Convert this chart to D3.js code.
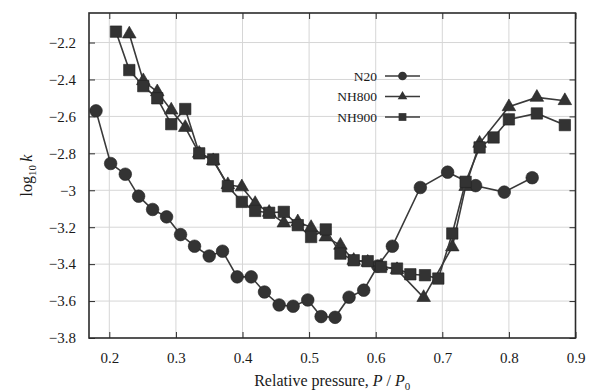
<!DOCTYPE html>
<html>
<head>
<meta charset="utf-8">
<script src="https://cdn.jsdelivr.net/npm/d3@7"></script>
<style>
  body { margin: 0; background: #fff; }
  svg, svg text { font-family: "Liberation Serif", "DejaVu Serif", serif; }
  .grid line { stroke: #d6d6d6; stroke-width: 1; }
</style>
</head>
<body>
<div id="chart"></div>
<script>
// relative pressure readings
const n20X = [0.180, 0.202, 0.224, 0.244, 0.265, 0.286, 0.307, 0.328, 0.350, 0.370, 0.392, 0.413, 0.433, 0.455, 0.476, 0.498, 0.518, 0.539, 0.560, 0.582, 0.603, 0.625, 0.667, 0.708, 0.750, 0.793, 0.835];
const n20Y = [-2.570, -2.855, -2.913, -3.032, -3.104, -3.144, -3.240, -3.303, -3.356, -3.330, -3.469, -3.469, -3.551, -3.621, -3.628, -3.594, -3.684, -3.688, -3.579, -3.541, -3.410, -3.303, -2.985, -2.902, -2.975, -3.010, -2.932];

const nh800X = [0.230, 0.251, 0.272, 0.293, 0.314, 0.335, 0.356, 0.378, 0.399, 0.419, 0.440, 0.462, 0.483, 0.503, 0.525, 0.547, 0.567, 0.588, 0.608, 0.632, 0.672, 0.715, 0.735, 0.756, 0.800, 0.842, 0.884];
const nh800Y = [-2.154, -2.407, -2.467, -2.566, -2.660, -2.800, -2.840, -2.970, -2.982, -3.072, -3.120, -3.177, -3.171, -3.202, -3.253, -3.298, -3.380, -3.390, -3.410, -3.430, -3.581, -3.307, -2.980, -2.746, -2.548, -2.497, -2.515];

const nh900X = [0.210, 0.230, 0.251, 0.272, 0.293, 0.314, 0.335, 0.356, 0.378, 0.399, 0.419, 0.440, 0.462, 0.483, 0.503, 0.525, 0.547, 0.567, 0.588, 0.608, 0.632, 0.652, 0.674, 0.694, 0.715, 0.735, 0.756, 0.777, 0.800, 0.842, 0.884];
const nh900Y = [-2.141, -2.349, -2.436, -2.502, -2.642, -2.560, -2.800, -2.833, -2.978, -3.063, -3.112, -3.122, -3.117, -3.189, -3.253, -3.212, -3.343, -3.379, -3.384, -3.415, -3.424, -3.455, -3.460, -3.478, -3.234, -2.954, -2.768, -2.714, -2.616, -2.584, -2.647];

const seriesNames = ['N20', 'NH800', 'NH900'];
const seriesShapes = ['circle', 'triangle', 'square'];
const xTicks = [0.2, 0.3, 0.4, 0.5, 0.6, 0.7, 0.8, 0.9];
const yTicks = [-3.8, -3.6, -3.4, -3.2, -3, -2.8, -2.6, -2.4, -2.2];

const W = 589, H = 392;
const margin = { top: 13, right: 13.5, bottom: 54, left: 89 };
const width = W - margin.left - margin.right;
const height = H - margin.top - margin.bottom;
const serif = '"Liberation Serif", "DejaVu Serif", serif';

const svg = d3.select('#chart').append('svg')
  .attr('width', W)
  .attr('height', H);

const chart = svg.append('g')
  .attr('transform', `translate(${margin.left}, ${margin.top})`);

const xScale = d3.scaleLinear().domain([0.1695, 0.9]).range([0, width]);
const yScale = d3.scaleLinear().domain([-3.8, -2.04]).range([height, 0]);

const ink = '#2b2b2b';
const fmt = v => d3.format('')(v).replace('-', '\u2212');

// grid
chart.append('g').attr('class', 'grid')
  .selectAll('line').data(xTicks.filter(t => t < 0.9)).join('line')
  .attr('x1', d => xScale(d)).attr('x2', d => xScale(d))
  .attr('y1', 0).attr('y2', height);
chart.append('g').attr('class', 'grid')
  .selectAll('line').data(yTicks.filter(t => t > -3.8)).join('line')
  .attr('x1', 0).attr('x2', width)
  .attr('y1', d => yScale(d)).attr('y2', d => yScale(d));

// axes, ticks pointing inwards on all four sides
const styleAxis = g => {
  g.attr('font-family', serif).attr('font-size', 15);
  g.select('.domain').remove();
  g.selectAll('.tick line').attr('stroke', ink).attr('stroke-width', 1);
  g.selectAll('.tick text').attr('fill', '#1a1a1a').style('font-family', serif).attr('font-size', 15);
};
chart.append('g')
  .attr('transform', `translate(0, ${height})`)
  .call(d3.axisBottom(xScale).tickValues(xTicks).tickSize(-6).tickPadding(14).tickFormat(fmt))
  .call(styleAxis);
chart.append('g')
  .call(d3.axisTop(xScale).tickValues(xTicks).tickSize(-6).tickFormat(''))
  .call(styleAxis);
chart.append('g')
  .call(d3.axisLeft(yScale).tickValues(yTicks).tickSize(-6).tickPadding(13).tickFormat(fmt))
  .call(styleAxis);
chart.append('g')
  .attr('transform', `translate(${width}, 0)`)
  .call(d3.axisRight(yScale).tickValues(yTicks).tickSize(-6).tickFormat(''))
  .call(styleAxis);

chart.append('rect')
  .attr('width', width).attr('height', height)
  .attr('fill', 'none').attr('stroke', ink).attr('stroke-width', 1.6);

// series
const symbolFor = (shape, size) => {
  const type = shape === 'circle' ? d3.symbolCircle : shape === 'triangle' ? d3.symbolTriangle : d3.symbolSquare;
  return d3.symbol().type(type).size(size)();
};
const markSize = { circle: 125, triangle: 80, square: 130 };

const series = [
  { name: seriesNames[0], shape: seriesShapes[0], pts: n20X.map((x, i) => [x, n20Y[i]]) },
  { name: seriesNames[1], shape: seriesShapes[1], pts: nh800X.map((x, i) => [x, nh800Y[i]]) },
  { name: seriesNames[2], shape: seriesShapes[2], pts: nh900X.map((x, i) => [x, nh900Y[i]]) }
];

const line = d3.line().x(d => xScale(d[0])).y(d => yScale(d[1]));

series.forEach(s => {
  chart.append('path')
    .datum(s.pts)
    .attr('d', line)
    .attr('fill', 'none')
    .attr('stroke', '#3a3a3a')
    .attr('stroke-width', 1.6);
  chart.append('g').selectAll('path').data(s.pts).join('path')
    .attr('transform', d => `translate(${xScale(d[0])}, ${yScale(d[1])})`)
    .attr('d', symbolFor(s.shape, markSize[s.shape]))
    .attr('fill', '#333')
    .attr('stroke', '#222')
    .attr('stroke-width', 0.6);
});

// legend
const legend = svg.append('g').attr('transform', 'translate(377, 76)');
series.forEach((s, i) => {
  const g = legend.append('g').attr('transform', `translate(0, ${i * 20.5})`);
  g.append('text')
    .attr('text-anchor', 'end').attr('dy', '0.35em')
    .attr('font-size', 13.5).attr('fill', '#1a1a1a')
    .text(s.name);
  g.append('line')
    .attr('x1', 8).attr('x2', 43)
    .attr('stroke', '#3a3a3a').attr('stroke-width', 1.4);
  g.append('path')
    .attr('transform', 'translate(25.5, 0)')
    .attr('d', symbolFor(s.shape, s.shape === 'triangle' ? 40 : 60))
    .attr('fill', '#333');
});

// axis titles
svg.append('text')
  .attr('x', margin.left + width / 2)
  .attr('y', 386)
  .attr('text-anchor', 'middle')
  .attr('font-size', 16)
  .attr('fill', '#1a1a1a')
  .call(t => {
    t.append('tspan').text('Relative pressure, ');
    t.append('tspan').attr('font-style', 'italic').text('P');
    t.append('tspan').text(' / ');
    t.append('tspan').attr('font-style', 'italic').text('P');
    t.append('tspan').attr('font-size', 11).attr('dy', 4).text('0');
  });

svg.append('text')
  .attr('transform', `translate(32, ${margin.top + height / 2}) rotate(-90)`)
  .attr('text-anchor', 'middle')
  .attr('font-size', 16)
  .attr('fill', '#1a1a1a')
  .call(t => {
    t.append('tspan').text('log');
    t.append('tspan').attr('font-size', 11).attr('dy', 4).text('10');
    t.append('tspan').attr('dy', -4).text('\u2009');
    t.append('tspan').attr('font-style', 'italic').text('k');
  });
</script>
</body>
</html>
